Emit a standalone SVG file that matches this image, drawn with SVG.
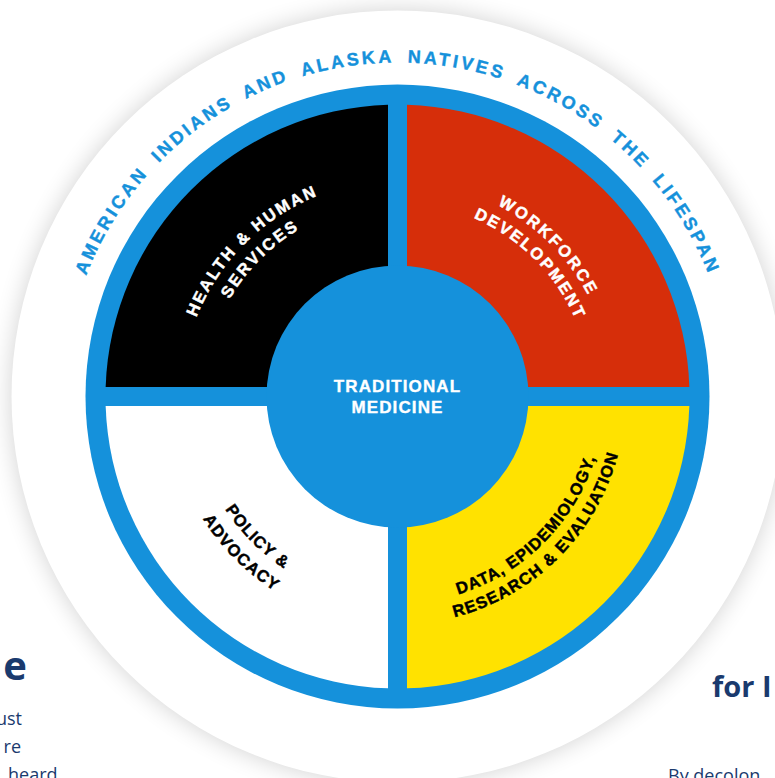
<svg xmlns="http://www.w3.org/2000/svg" width="775" height="778" viewBox="0 0 775 778">
  <defs>
    <filter id="soft" x="-20%" y="-20%" width="140%" height="140%">
      <feGaussianBlur stdDeviation="12"/>
    </filter>
    <!-- text baselines, all centred on the wheel origin -->
    <path id="ringArc" d="M -334 0 A 334 334 0 0 1 334 0"/>
    <path id="nwOuter" d="M -216 0 A 216 216 0 0 1 0 -216"/>
    <path id="nwInner" d="M -194 0 A 194 194 0 0 1 0 -194"/>
    <path id="neOuter" d="M 0 -216 A 216 216 0 0 1 216 0"/>
    <path id="neInner" d="M 0 -194 A 194 194 0 0 1 194 0"/>
    <path id="swInner" d="M -206 0 A 206 206 0 0 0 0 206"/>
    <path id="swOuter" d="M -230 0 A 230 230 0 0 0 0 230"/>
    <path id="seInner" d="M 0 207 A 207 207 0 0 0 207 0"/>
    <path id="seOuter" d="M 0 228 A 228 228 0 0 0 228 0"/>
  </defs>
  <style>
    .body { font-family: "Open Sans", "Noto Sans", sans-serif; fill: #1a3a6e; }
    .head { font-family: "Open Sans", "Noto Sans", sans-serif; font-weight: 700; fill: #1a3a6e; }
    .lbl { font-family: "Liberation Sans", Arial, sans-serif; font-weight: 700; font-size: 16.5px; stroke-width: 0.45px; }
    .core { font-family: "Liberation Sans", Arial, sans-serif; font-weight: 700; font-size: 17px; letter-spacing: 1.1px; fill: #ffffff; stroke: #ffffff; stroke-width: 0.35px; }
    .ring { font-family: "Liberation Sans", Arial, sans-serif; font-weight: 700; font-size: 18px; fill: #1591db; stroke: #1591db; stroke-width: 0.4px; letter-spacing: 3px; word-spacing: 6px; }
    .light { fill: #ffffff; stroke: #ffffff; }
    .dark { fill: #000000; stroke: #000000; }
  </style>

  <rect width="775" height="778" fill="#ffffff"/>

  <!-- page copy running behind the wheel -->
  <g id="page-text">
    <text class="head" x="27" y="680" font-size="40" text-anchor="end">e</text>
    <text class="body" x="22" y="725" font-size="18" text-anchor="end">ust</text>
    <text class="body" x="21" y="753" font-size="18" text-anchor="end">re</text>
    <text class="body" x="8" y="781" font-size="18">heard</text>
    <text class="head" x="712" y="697" font-size="29">for I</text>
    <text class="body" x="668" y="782" font-size="18">By decolon</text>
  </g>

  <g transform="translate(397.5 396.5)">
    <!-- backing disc with soft shadow -->
    <g id="disc">
      <circle r="386" fill="#000000" opacity="0.18" filter="url(#soft)"/>
      <circle r="386" fill="#ffffff"/>
    </g>

    <g id="ring-title">
      <text class="ring"><textPath href="#ringArc" startOffset="50%" text-anchor="middle">AMERICAN INDIANS AND ALASKA NATIVES ACROSS THE LIFESPAN</textPath></text>
    </g>

    <!-- blue rim and dividers -->
    <circle id="rim" r="312" fill="#1591db"/>

    <g id="health">
      <path d="M -9.5 -9.5 L -9.5 -291.85 A 292 292 0 0 0 -291.85 -9.5 Z" fill="#000000"/>
      <text class="lbl light" letter-spacing="2.1"><textPath href="#nwOuter" startOffset="50%" text-anchor="middle">HEALTH &amp; HUMAN</textPath></text>
      <text class="lbl light" letter-spacing="2.2"><textPath href="#nwInner" startOffset="50%" text-anchor="middle">SERVICES</textPath></text>
    </g>

    <g id="workforce">
      <path d="M 9.5 -9.5 L 9.5 -291.85 A 292 292 0 0 1 291.85 -9.5 Z" fill="#d62e0a"/>
      <text class="lbl light" letter-spacing="2.4"><textPath href="#neOuter" startOffset="50%" text-anchor="middle">WORKFORCE</textPath></text>
      <text class="lbl light" letter-spacing="2.1"><textPath href="#neInner" startOffset="50%" text-anchor="middle">DEVELOPMENT</textPath></text>
    </g>

    <g id="data">
      <path d="M 9.5 9.5 L 291.85 9.5 A 292 292 0 0 1 9.5 291.85 Z" fill="#ffe200"/>
      <text class="lbl dark" letter-spacing="1"><textPath href="#seInner" startOffset="50%" text-anchor="middle">DATA, EPIDEMIOLOGY,</textPath></text>
      <text class="lbl dark" letter-spacing="1.15"><textPath href="#seOuter" startOffset="50%" text-anchor="middle">RESEARCH &amp; EVALUATION</textPath></text>
    </g>

    <g id="policy">
      <path d="M -9.5 9.5 L -9.5 291.85 A 292 292 0 0 1 -291.85 9.5 Z" fill="#ffffff"/>
      <text class="lbl dark" letter-spacing="0.9"><textPath href="#swInner" startOffset="50%" text-anchor="middle">POLICY &amp;</textPath></text>
      <text class="lbl dark" letter-spacing="1.1"><textPath href="#swOuter" startOffset="50%" text-anchor="middle">ADVOCACY</textPath></text>
    </g>

    <g id="traditional-medicine">
      <circle r="131" fill="#1591db"/>
      <text class="core" text-anchor="middle" x="0" y="-4.5">TRADITIONAL</text>
      <text class="core" text-anchor="middle" x="0" y="16.5">MEDICINE</text>
    </g>
  </g>
</svg>
